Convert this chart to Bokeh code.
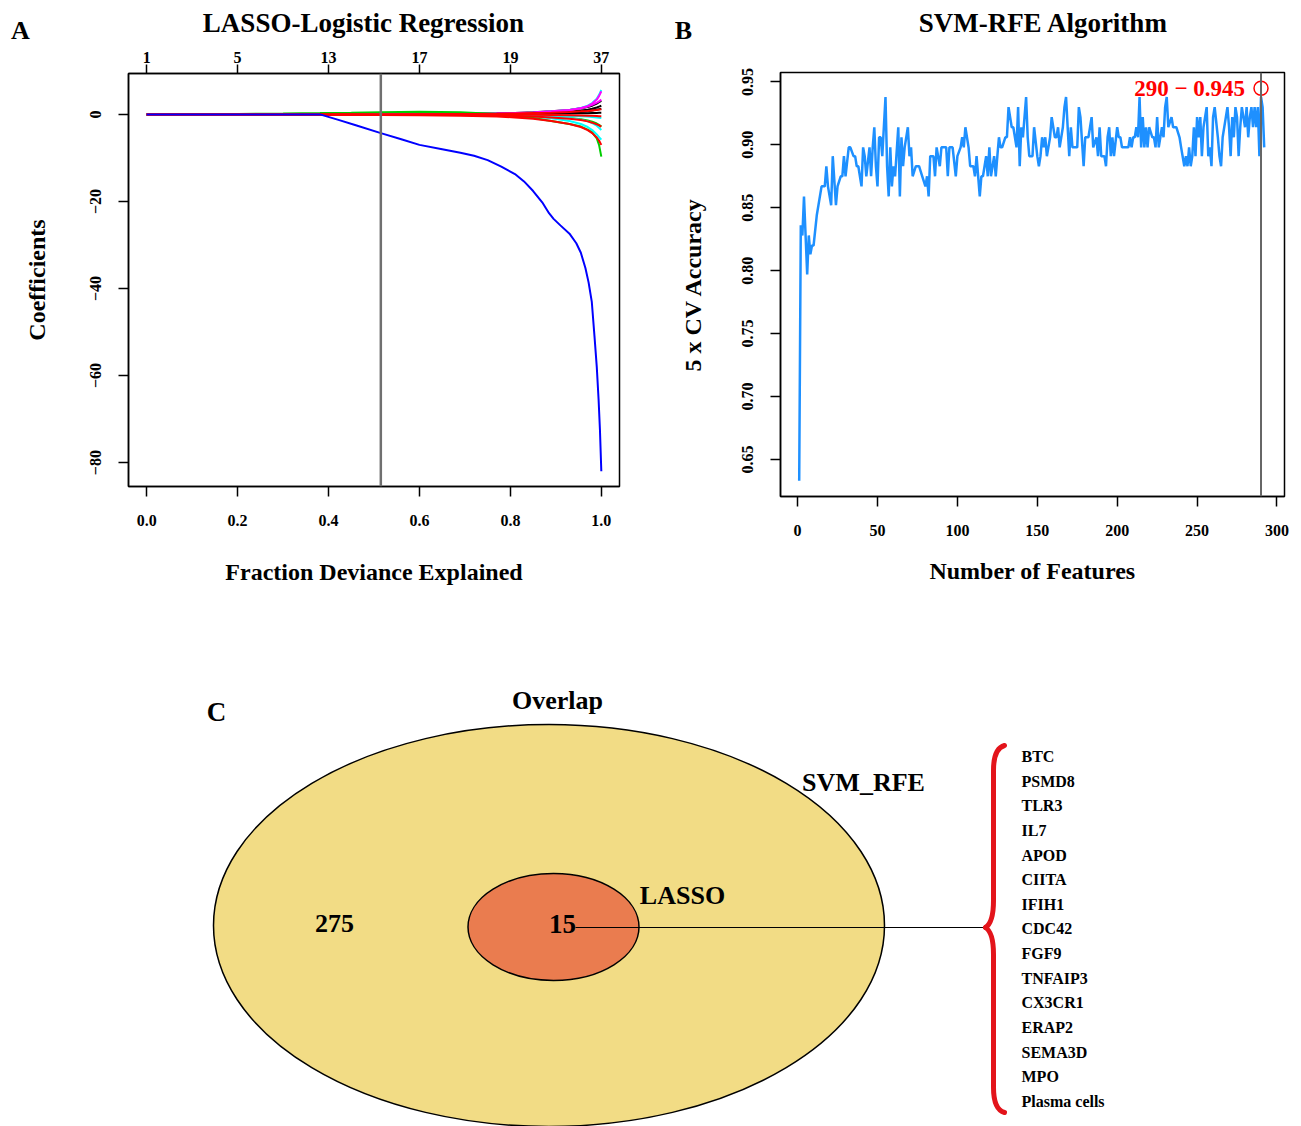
from bokeh.plotting import figure
from bokeh.layouts import column, row
from bokeh.models import Range1d, FixedTicker, LinearAxis, PrintfTickFormatter, Span
from bokeh.embed import file_html
from bokeh.resources import INLINE
from bokeh.core.properties import value

FONT = "Liberation Serif"

# ---------------- Panel A data (LASSO path) ----------------
dev_frac = [0.0, 0.10, 0.20, 0.30, 0.381, 0.45, 0.515, 0.60, 0.69, 0.77,
            0.81, 0.85, 0.89, 0.93, 0.955, 0.97, 0.98, 0.99, 0.995, 1.0]
coef_green1 = [0, 0.05, 0.1, 0.2, 0.3, 0.4, 0.5, 0.6, 0.5, 0.1, -0.3, -0.8, -1.5, -2.2, -2.8, -3.5, -4.2, -5.5, -7.0, -9.7]
coef_red1 = [0, 0, 0, 0, -0.05, -0.1, -0.15, -0.2, -0.3, -0.5, -0.7, -1.0, -1.5, -2.2, -2.9, -3.6, -4.3, -5.3, -6.0, -7.0]
coef_cyan1 = [0, 0, 0, 0, 0, 0, 0, -0.05, -0.1, -0.2, -0.35, -0.55, -0.9, -1.5, -2.2, -2.9, -3.6, -4.6, -5.2, -5.8]
coef_cyan2 = [0, 0, 0, 0, 0, 0, 0, 0, -0.05, -0.1, -0.2, -0.3, -0.5, -0.8, -1.2, -1.6, -2.0, -2.6, -3.1, -3.6]
coef_green2 = [0, 0, 0, 0, 0, 0.05, 0.1, 0.15, 0.1, 0, -0.1, -0.25, -0.45, -0.8, -1.1, -1.4, -1.7, -2.1, -2.4, -2.8]
coef_red2 = [0, 0, 0, 0, 0, 0, -0.05, -0.1, -0.15, -0.25, -0.35, -0.5, -0.7, -1.0, -1.3, -1.6, -1.9, -2.3, -2.5, -2.8]
coef_red3 = [0, 0, 0, 0, 0, 0, 0, 0, 0, -0.05, -0.05, -0.1, -0.15, -0.2, -0.25, -0.3, -0.3, -0.35, -0.4, -0.4]
coef_cyan3 = [0, 0, 0, 0, 0, 0, 0, 0, 0, -0.05, -0.1, -0.15, -0.25, -0.35, -0.45, -0.5, -0.6, -0.7, -0.75, -0.8]
coef_black1 = [0, 0, 0, 0, 0, 0, 0, 0, 0.05, 0.05, 0.1, 0.1, 0.15, 0.2, 0.25, 0.25, 0.3, 0.35, 0.4, 0.4]
coef_red4 = [0, 0, 0, 0, 0, 0, 0, 0.05, 0.1, 0.15, 0.2, 0.3, 0.4, 0.55, 0.7, 0.8, 0.9, 1.0, 1.1, 1.2]
coef_black2 = [0, 0, 0, 0, 0, 0, 0, 0, 0, 0.05, 0.1, 0.15, 0.25, 0.4, 0.55, 0.7, 0.9, 1.1, 1.2, 1.3]
coef_black3 = [0, 0, 0, 0, 0, 0, 0, 0, 0.05, 0.1, 0.2, 0.3, 0.45, 0.7, 0.9, 1.1, 1.3, 1.6, 1.8, 2.0]
coef_black4 = [0, 0, 0, 0, 0, 0, 0.05, 0.1, 0.15, 0.25, 0.35, 0.5, 0.7, 1.0, 1.4, 1.7, 2.0, 2.5, 2.8, 3.1]
coef_magenta1 = [0, 0, 0, 0, 0, 0, 0, 0.05, 0.1, 0.2, 0.3, 0.45, 0.7, 1.0, 1.4, 1.8, 2.2, 2.7, 3.0, 3.4]
coef_magenta2 = [0, 0, 0, 0, 0, 0, 0, 0, 0.05, 0.15, 0.25, 0.4, 0.6, 0.95, 1.4, 1.9, 2.5, 3.4, 4.2, 5.3]
coef_cyan4 = [0, 0, 0, 0, 0, 0, 0, 0, 0.05, 0.15, 0.25, 0.4, 0.65, 1.0, 1.5, 2.0, 2.6, 3.6, 4.5, 5.6]

blue_dev = [0.0, 0.381, 0.42, 0.46, 0.515, 0.56, 0.60, 0.65, 0.69, 0.72, 0.75, 0.78, 0.81, 0.83, 0.85,
            0.87, 0.885, 0.895, 0.91, 0.93, 0.945, 0.955, 0.965, 0.972, 0.979, 0.985, 0.99, 0.994, 0.997, 1.0]
coef_blue = [0, 0, -1.2, -2.5, -4.3, -5.7, -7.0, -8.0, -8.8, -9.5, -10.5, -12.0, -13.7, -15.4, -17.6,
             -20.2, -22.7, -24.0, -25.5, -27.4, -29.6, -31.8, -35.3, -38.6, -43.0, -51.0, -58.0, -65.5, -72.5, -82.0]

df_ticks = [0.0, 0.2, 0.4, 0.6, 0.8, 1.0]
df_labels = ["1", "5", "13", "17", "19", "37"]
dev_ticks = [0.0, 0.2, 0.4, 0.6, 0.8, 1.0]
coef_ticks = [-80, -60, -40, -20, 0]
coef_tick_labels = ["\u221280", "\u221260", "\u221240", "\u221220", "0"]
lasso_cut = 0.515

# ---------------- Panel B data (SVM-RFE) ----------------
n_features = [1, 2, 3, 4, 6, 7, 8, 9, 10, 12, 15, 17, 18, 19, 21, 22, 24, 25, 27, 28,
              29, 30, 32, 33, 35, 36, 37, 38, 40, 41, 42, 43, 45, 46, 47, 48, 49, 50, 51, 52,
              53, 55, 56, 57, 58, 59, 60, 61, 63, 64, 65, 66, 67, 69, 70, 71, 72, 74, 76, 78,
              80, 81, 82, 83, 85, 86, 87, 89, 90, 91, 93, 94, 95, 97, 99, 100, 102, 103, 104, 105,
              107, 108, 110, 111, 112, 113, 114, 115, 116, 117, 118, 119, 120, 121, 123, 124, 125, 126, 127, 128,
              130, 131, 132, 134, 135, 136, 137, 138, 139, 140, 141, 143, 144, 145, 147, 148, 150, 151, 152, 153,
              154, 155, 156, 158, 159, 161, 162, 163, 164, 166, 167, 168, 169, 170, 171, 172, 174, 175, 176, 177,
              179, 180, 182, 183, 184, 185, 187, 188, 189, 190, 192, 193, 194, 195, 196, 197, 198, 200, 201, 202,
              203, 205, 207, 208, 209, 210, 211, 212, 213, 214, 215, 216, 217, 218, 219, 220, 222, 223, 224, 225,
              226, 228, 229, 230, 231, 232, 234, 235, 237, 239, 240, 242, 243, 244, 245, 246, 247, 248, 249, 250,
              251, 252, 253, 254, 256, 257, 258, 259, 260, 261, 263, 264, 265, 266, 268, 269, 270, 271, 272, 273,
              274, 275, 276, 277, 278, 279, 280, 281, 282, 283, 284, 285, 286, 287, 288, 289, 290, 291, 292]
accuracy = [0.633, 0.836, 0.828, 0.859, 0.797, 0.828, 0.813, 0.820, 0.820, 0.844, 0.867, 0.867, 0.883, 0.867, 0.852, 0.891, 0.852, 0.867, 0.875, 0.875,
            0.891, 0.875, 0.898, 0.898, 0.891, 0.891, 0.883, 0.883, 0.867, 0.898, 0.891, 0.875, 0.898, 0.875, 0.898, 0.914, 0.883, 0.867, 0.906, 0.906,
            0.891, 0.938, 0.883, 0.859, 0.898, 0.867, 0.883, 0.875, 0.914, 0.859, 0.906, 0.883, 0.898, 0.914, 0.891, 0.898, 0.875, 0.883, 0.883, 0.875,
            0.867, 0.875, 0.859, 0.891, 0.891, 0.875, 0.898, 0.883, 0.898, 0.898, 0.898, 0.875, 0.898, 0.898, 0.875, 0.891, 0.898, 0.906, 0.898, 0.914,
            0.898, 0.883, 0.883, 0.875, 0.891, 0.875, 0.859, 0.875, 0.875, 0.883, 0.891, 0.875, 0.898, 0.875, 0.891, 0.875, 0.891, 0.906, 0.898, 0.898,
            0.906, 0.906, 0.930, 0.914, 0.914, 0.906, 0.898, 0.930, 0.883, 0.914, 0.906, 0.938, 0.906, 0.891, 0.891, 0.914, 0.891, 0.883, 0.891, 0.906,
            0.898, 0.906, 0.891, 0.906, 0.922, 0.906, 0.906, 0.914, 0.898, 0.914, 0.930, 0.938, 0.914, 0.891, 0.914, 0.898, 0.898, 0.898, 0.930, 0.922,
            0.883, 0.906, 0.906, 0.914, 0.922, 0.898, 0.906, 0.891, 0.914, 0.891, 0.891, 0.883, 0.906, 0.914, 0.891, 0.906, 0.891, 0.914, 0.906, 0.906,
            0.898, 0.898, 0.898, 0.906, 0.898, 0.906, 0.906, 0.914, 0.906, 0.938, 0.898, 0.922, 0.898, 0.914, 0.898, 0.914, 0.906, 0.906, 0.898, 0.922,
            0.898, 0.914, 0.906, 0.930, 0.938, 0.914, 0.922, 0.914, 0.914, 0.906, 0.898, 0.883, 0.891, 0.883, 0.898, 0.883, 0.891, 0.914, 0.891, 0.922,
            0.906, 0.922, 0.891, 0.914, 0.930, 0.891, 0.898, 0.883, 0.922, 0.930, 0.906, 0.891, 0.883, 0.906, 0.922, 0.930, 0.914, 0.891, 0.922, 0.906,
            0.930, 0.922, 0.891, 0.914, 0.930, 0.922, 0.914, 0.930, 0.906, 0.922, 0.930, 0.914, 0.930, 0.914, 0.930, 0.891, 0.938, 0.930, 0.898]
best_n = 290
best_acc = 0.945
feat_ticks = [0, 50, 100, 150, 200, 250, 300]
acc_ticks = [0.65, 0.70, 0.75, 0.80, 0.85, 0.90, 0.95]

# ---------------- Panel C data (overlap) ----------------
svm_only = 275
overlap_n = 15
set_names = ["SVM_RFE", "LASSO"]
genes = ["BTC", "PSMD8", "TLR3", "IL7", "APOD", "CIITA", "IFIH1", "CDC42",
         "FGF9", "TNFAIP3", "CX3CR1", "ERAP2", "SEMA3D", "MPO", "Plasma cells"]

# ---------------- helpers ----------------
TXT = dict(text_font=value(FONT), text_font_style="bold", text_baseline="middle", text_color="black")


def style_axis(ax, tick_size="16px"):
    ax.axis_line_color = "black"
    ax.axis_line_width = 1.5
    ax.major_tick_line_color = "black"
    ax.major_tick_line_width = 1.5
    ax.major_tick_out = 10
    ax.major_tick_in = 0
    ax.minor_tick_out = 0
    ax.minor_tick_in = 0
    ax.major_label_text_font = FONT
    ax.major_label_text_font_style = "bold"
    ax.major_label_text_font_size = tick_size
    ax.major_label_text_color = "black"
    ax.axis_label_text_font = FONT
    ax.axis_label_text_font_style = "bold"
    ax.axis_label_text_font_size = "24px"
    ax.axis_label_text_color = "black"


def base_fig(w, h, xr, yr, l, r, t, b):
    p = figure(width=w, height=h, x_range=xr, y_range=yr, output_backend="svg",
               toolbar_location=None, min_border_left=l, min_border_right=r,
               min_border_top=t, min_border_bottom=b)
    p.title = None
    p.xgrid.visible = False
    p.ygrid.visible = False
    p.outline_line_color = "black"
    p.outline_line_width = 1.5
    p.background_fill_color = "white"
    p.border_fill_color = "white"
    return p


def blank_fig(w, h, x0, x1, y0, y1):
    p = figure(width=w, height=h, x_range=Range1d(x0, x1), y_range=Range1d(y1, y0),
               output_backend="svg", toolbar_location=None, x_axis_type=None,
               y_axis_type=None, min_border=0)
    p.title = None
    p.xgrid.visible = False
    p.ygrid.visible = False
    p.outline_line_color = None
    return p

HEAD_H = 44

# ---------------- Panel A ----------------
A_L, A_R, A_T, A_B = 128, 619, 73, 486
hA = blank_fig(650, HEAD_H, 0, 650, 0, HEAD_H)
hA.text([363], [22], text=["LASSO-Logistic Regression"], text_font_size="27px", text_align="center", **TXT)
hA.text([20], [30], text=["A"], text_font_size="26px", text_align="center", **TXT)

pA = base_fig(650, 600 - HEAD_H, Range1d(-0.04, 1.04), Range1d(-85.5, 9.4),
              A_L, 650 - A_R, A_T - HEAD_H, 600 - A_B)

paths = [
    (coef_black1, "black"), (coef_black2, "black"), (coef_black3, "black"), (coef_black4, "black"),
    (coef_green2, "#00CD00"), (coef_cyan3, "cyan"), (coef_cyan2, "cyan"), (coef_cyan1, "cyan"),
    (coef_cyan4, "cyan"), (coef_magenta1, "magenta"), (coef_magenta2, "magenta"),
    (coef_green1, "#00CD00"), (coef_red3, "red"), (coef_red2, "red"), (coef_red4, "red"),
    (coef_red1, "red"),
]
for ys, col in paths:
    pA.line(dev_frac, ys, line_color=col, line_width=2)
pA.line(blue_dev, coef_blue, line_color="blue", line_width=2)

pA.add_layout(Span(location=lasso_cut, dimension="height", line_color="#707070", line_width=2.5))

pA.xaxis.ticker = FixedTicker(ticks=dev_ticks)
pA.xaxis.formatter = PrintfTickFormatter(format="%.1f")
pA.xaxis.axis_label = "Fraction Deviance Explained"
pA.yaxis.ticker = FixedTicker(ticks=coef_ticks)
pA.yaxis.major_label_overrides = dict(zip(coef_ticks, coef_tick_labels))
pA.yaxis.major_label_orientation = "vertical"
pA.yaxis.axis_label = "Coefficients"
style_axis(pA.xaxis[0])
style_axis(pA.yaxis[0])
pA.xaxis.major_label_standoff = 18
pA.xaxis.axis_label_standoff = 30
pA.yaxis.major_label_standoff = 17
pA.yaxis.axis_label_standoff = 38

top_ax = LinearAxis(ticker=FixedTicker(ticks=df_ticks),
                    major_label_overrides=dict(zip(df_ticks, df_labels)))
style_axis(top_ax)
top_ax.major_tick_out = 9
top_ax.major_label_standoff = 2
pA.add_layout(top_ax, "above")

# ---------------- Panel B ----------------
B_L, B_R, B_T, B_B = 130, 634, 72, 496
hB = blank_fig(651, HEAD_H, 650, 1301, 0, HEAD_H)
hB.text([1043], [22], text=["SVM-RFE Algorithm"], text_font_size="27px", text_align="center", **TXT)
hB.text([683], [30], text=["B"], text_font_size="26px", text_align="center", **TXT)

pB = base_fig(651, 600 - HEAD_H, Range1d(-10.7, 304.7), Range1d(0.6205, 0.9575),
              B_L, 651 - B_R, B_T - HEAD_H, 600 - B_B)

pB.line(n_features, accuracy, line_color="#1E90FF", line_width=2.5)
pB.add_layout(Span(location=best_n, dimension="height", line_color="#666666", line_width=2))
pB.scatter([best_n], [best_acc], marker="circle", size=14, fill_color=None,
           line_color="red", line_width=1.5)
pB.text([best_n], [best_acc], text=[f"{best_n} \u2212 {best_acc}"], x_offset=-16,
        text_align="right", text_baseline="middle", text_color="red",
        text_font=value(FONT), text_font_style="bold", text_font_size="23px")

pB.xaxis.ticker = FixedTicker(ticks=feat_ticks)
pB.xaxis.axis_label = "Number of Features"
pB.yaxis.ticker = FixedTicker(ticks=acc_ticks)
pB.yaxis.formatter = PrintfTickFormatter(format="%.2f")
pB.yaxis.major_label_orientation = "vertical"
pB.yaxis.axis_label = "5 x CV Accuracy"
style_axis(pB.xaxis[0])
style_axis(pB.yaxis[0])
pB.xaxis.major_label_standoff = 18
pB.xaxis.axis_label_standoff = 19
pB.yaxis.major_label_standoff = 17
pB.yaxis.axis_label_standoff = 34

# ---------------- Panel C ----------------
pC = blank_fig(1301, 526, 0, 1301, 600, 1126)

big_cx, big_cy, big_w, big_h = 548.5, 925, 671, 402
small_cx, small_cy, small_w, small_h = 553, 926.5, 171, 107
pC.ellipse([big_cx], [big_cy], width=[big_w], height=[big_h], fill_color="#F2DC85",
           line_color="black", line_width=1.5)
pC.ellipse([small_cx], [small_cy], width=[small_w], height=[small_h], fill_color="#EA7C4F",
           line_color="black", line_width=1.5)

pC.text([216], [711], text=["C"], text_font_size="27px", text_align="center", **TXT)
pC.text([557], [700], text=["Overlap"], text_font_size="26px", text_align="center", **TXT)
pC.text([863], [782], text=[set_names[0]], text_font_size="26px", text_align="center", **TXT)
pC.text([682], [895], text=[set_names[1]], text_font_size="26px", text_align="center", **TXT)
pC.text([334], [923], text=[str(svm_only)], text_font_size="26px", text_align="center", **TXT)
pC.text([562], [923], text=[str(overlap_n)], text_font_size="27px", text_align="center", **TXT)

brace_x, brace_tip_x, brace_mid_y, brace_top, brace_bot = 993, 985, 927, 745, 1112
pC.segment([575], [brace_mid_y], [brace_tip_x], [brace_mid_y], line_color="black", line_width=1.2)

bw = 5
red = "#E3141B"
pC.quadratic([brace_x + 11], [brace_top], [brace_x], [brace_top + 25], [brace_x], [brace_top + 3],
             line_color=red, line_width=bw, line_cap="round")
pC.segment([brace_x], [brace_top + 25], [brace_x], [brace_mid_y - 27], line_color=red, line_width=bw)
pC.quadratic([brace_x], [brace_mid_y - 27], [brace_tip_x], [brace_mid_y], [brace_x], [brace_mid_y - 5],
             line_color=red, line_width=bw, line_cap="round")
pC.quadratic([brace_tip_x], [brace_mid_y], [brace_x], [brace_mid_y + 27], [brace_x], [brace_mid_y + 5],
             line_color=red, line_width=bw, line_cap="round")
pC.segment([brace_x], [brace_mid_y + 27], [brace_x], [brace_bot - 25], line_color=red, line_width=bw)
pC.quadratic([brace_x], [brace_bot - 25], [brace_x + 11], [brace_bot], [brace_x], [brace_bot - 3],
             line_color=red, line_width=bw, line_cap="round")

gene_x, gene_y0, gene_dy = 1021, 756, 24.64
pC.text([gene_x] * len(genes), [gene_y0 + i * gene_dy for i in range(len(genes))], text=genes,
        text_font_size="16px", text_align="left", **TXT)

layout = column(row(column(row(hA), row(pA)), column(row(hB), row(pB))), pC)
open("out.html", "w").write(file_html(layout, INLINE))
